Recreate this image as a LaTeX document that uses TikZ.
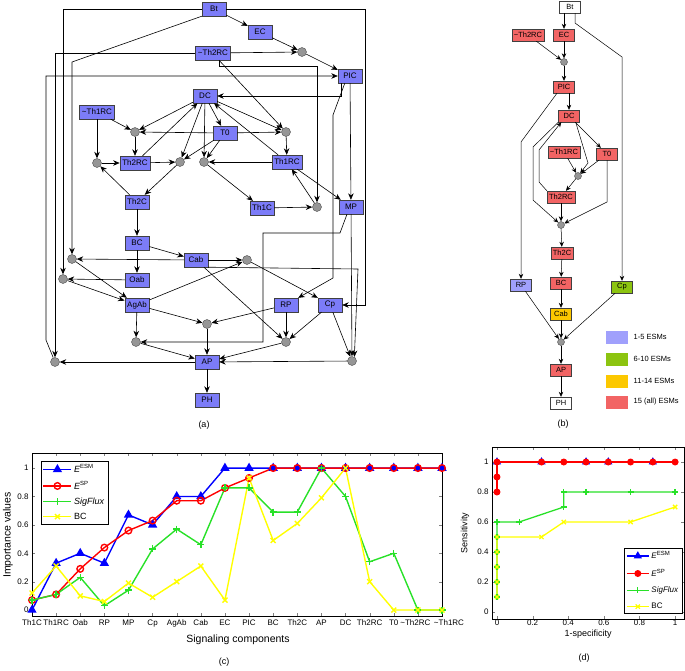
\documentclass[tikz,border=0pt]{standalone}
\usepackage{fontspec}
\setmainfont{Liberation Sans}
\usepackage{pgfplots}
\pgfplotsset{compat=1.18}
\usetikzlibrary{arrows.meta,positioning}
\definecolor{esmblue}{RGB}{124,124,248}
\definecolor{lowblue}{RGB}{160,160,252}
\definecolor{midgreen}{RGB}{140,196,16}
\definecolor{highgold}{RGB}{252,200,0}
\definecolor{allred}{RGB}{242,100,100}
\definecolor{andgray}{RGB}{150,150,150}
\definecolor{mlgreen}{RGB}{40,225,40}
\definecolor{mlyellow}{RGB}{255,255,0}
\tikzset{
  comp/.style={rectangle,draw=black!75,fill=esmblue,minimum width=24pt,
               minimum height=14pt,inner xsep=2.5pt,inner ysep=0pt,
               font=\fontsize{8}{9}\selectfont},
  scomp/.style={comp,fill=#1,minimum width=21pt,minimum height=12pt,
                inner xsep=2pt,font=\fontsize{7.5}{8}\selectfont},
  scomp/.default=allred,
  andg/.style={circle,draw=black!70,fill=andgray,minimum size=9pt,inner sep=0pt},
  sandg/.style={andg,minimum size=7pt},
  arr/.style={-{Stealth[length=6.5pt,width=5.5pt]},line width=0.6pt},
  sarr/.style={-{Stealth[length=5pt,width=4.5pt]},line width=0.5pt},
  swatch/.style={rectangle,minimum width=22pt,minimum height=13pt,
                 inner sep=0pt,fill=#1},
  swatch/.default=allred,
  lab/.style={font=\fontsize{7.5}{9}\selectfont},
  captext/.style={font=\fontsize{9}{10}\selectfont},
}
\pgfplotsset{
  mlaxis/.style={scale only axis,anchor=south west,clip=false,
    axis line style={line width=0.5pt},
    tick label style={font=\fontsize{8}{9}\selectfont},
    yticklabel={\pgfmathprintnumber[assume math mode=true]{\tick}},
    major tick length=3pt,ytick={0,0.2,0.4,0.6,0.8,1},
    legend cell align=left},
}

\begin{document}
\begin{tikzpicture}
\useasboundingbox (0pt,0pt) rectangle (685pt,-670pt);
\begin{scope}[x=1pt,y=-1pt]
  % (a) full network
  \node[comp] (aBt) at (214,9) {Bt};
  \node[comp] (aEC) at (260,32) {EC};
  \node[comp] (anTh2RC) at (213,53) {\textasciitilde Th2RC};
  \node[comp] (aPIC) at (350,76) {PIC};
  \node[comp] (aDC) at (205,96) {DC};
  \node[comp] (anTh1RC) at (97,112) {\textasciitilde Th1RC};
  \node[comp] (aT0) at (225,133) {T0};
  \node[comp] (aTh2RC) at (135,163) {Th2RC};
  \node[comp] (aTh1RC) at (287,162) {Th1RC};
  \node[comp] (aTh2C) at (137,202) {Th2C};
  \node[comp] (aTh1C) at (262,208) {Th1C};
  \node[comp] (aMP) at (351,207) {MP};
  \node[comp] (aBC) at (137,243) {BC};
  \node[comp] (aCab) at (196,260) {Cab};
  \node[comp] (aOab) at (137,280) {Oab};
  \node[comp] (aAgAb) at (137,305) {AgAb};
  \node[comp] (aRP) at (286,305) {RP};
  \node[comp] (aCp) at (330,305) {Cp};
  \node[comp] (aAP) at (207,362) {AP};
  \node[comp] (aPH) at (207,400) {PH};

  \node[andg] (gPIC) at (302,52) {};
  \node[andg] (gFb) at (55,362) {};
  \node[andg] (gTwoA) at (135,132) {};
  \node[andg] (gTwoB) at (97,163) {};
  \node[andg] (gOneA) at (286,132) {};
  \node[andg] (gTwoC) at (180,162) {};
  \node[andg] (gOneC) at (204,162) {};
  \node[andg] (gOneB) at (317,207) {};
  \node[andg] (gAgA) at (72,259) {};
  \node[andg] (gAgB) at (63,279) {};
  \node[andg] (gCp) at (247,260) {};
  \node[andg] (gApA) at (207,324) {};
  \node[andg] (gApB) at (136,342) {};
  \node[andg] (gApC) at (286,342) {};
  \node[andg] (gApD) at (352,361) {};

  \draw[arr] (aBt) -- (aEC);
  \draw[arr] (aEC) -- (gPIC);
  \draw[arr] (anTh2RC) -- (gPIC);
  \draw[arr] (gPIC) -- (aPIC);
  \draw[arr] (aBt.west) -| (gAgB);
  \draw[arr] (aBt.south west) -- (72,62) -- (gAgA);
  \draw[arr] (aBt.east) -- (365,9) |- (aCp);
  \draw[arr] (anTh2RC.west) -| (gFb);
  \draw[arr] ([xshift=6pt]anTh2RC.south) -- (gOneA);
  \draw[arr] ([xshift=6pt]anTh2RC.south) |- (317,66) -- (gOneB);
  \draw[arr] (gFb) -- (46,340) -- (46,76) -- (aPIC);
  \draw[arr] ([xshift=3pt]aPIC.south west) |- (aDC);
  \draw[arr] (aPIC) -- (aMP);
  \draw[arr] ([xshift=7pt]aPIC.south west) -- (333,115) -- (333,278) -- (aRP.north east);

  \draw[arr] (aDC) -- (gTwoA);
  \draw[arr] (aDC) -- (gOneA);
  \draw[arr] (aDC) -- (aT0);
  \draw[arr] (aDC) -- (gTwoC);
  \draw[arr] (aDC) -- (gOneC);
  \draw[arr] (aTh2RC) -- (aDC);
  \draw[arr] (aTh1RC) -- (aDC);
  \draw[arr] (aT0) -- (gTwoA);
  \draw[arr] (aT0) -- (gOneA);
  \draw[arr] (aT0) -- (gTwoC);
  \draw[arr] (aT0) -- (gOneC);
  \draw[arr] (anTh1RC) -- (gTwoA);
  \draw[arr] (anTh1RC) -- (gTwoB);
  \draw[arr] (gTwoA) -- (aTh2RC);
  \draw[arr] (gTwoB) -- (aTh2RC);
  \draw[arr] (aTh2RC) -- (gTwoC);
  \draw[arr] (gTwoC) -- (aTh2C);
  \draw[arr] (aTh2C) -- (gTwoB);
  \draw[arr] (gOneA) -- (aTh1RC);
  \draw[arr] (aTh1RC) -- (gOneC);
  \draw[arr] (gOneC) -- (aTh1C);
  \draw[arr] (aTh1C) -- (gOneB);
  \draw[arr] (gOneB) -- (aTh1RC);
  \draw[arr] (aTh1RC) -- (aMP);

  \draw[arr] (aTh2C) -- (aBC);
  \draw[arr] (aBC) -- (aOab);
  \draw[arr] (aBC) -- (aCab);
  \draw[arr] (aCab) -- (gAgA);
  \draw[arr] (aCab) -- (gCp);
  \draw[arr] (aOab) -- (gAgB);
  \draw[arr] (gAgA) -- (aAgAb);
  \draw[arr] (gAgB) -- (aAgAb);
  \draw[arr] (aAgAb) -- (gCp);
  \draw[arr] (gCp) -- (aCp.north west);
  \draw[arr] (aCab) -- (gApC);
  \draw[arr] (aCab.south east) -- (358,269) -- (gApD.60);
  \draw[arr] (aAgAb) -- (gApA);
  \draw[arr] (aAgAb) -- (gApB);
  \draw[arr] (aRP) -- (gApA);
  \draw[arr] (aRP) -- (gApC);
  \draw[arr] (aCp) -- (gApC);
  \draw[arr] (aCp) -- (gApD);
  \draw[arr] (aMP) -- (gApD);
  \draw[arr] ([xshift=-4pt]aMP.south) -- (340,233) -- (263,233) |- (gApB);
  \draw[arr] (gApA) -- (aAP);
  \draw[arr] (gApB) -- (aAP);
  \draw[arr] (gApC) -- (aAP);
  \draw[arr] (gApD) -- (aAP);
  \draw[arr] (aAP) -- (gFb);
  \draw[arr] (aAP) -- (aPH);

  % (b) core network
  \node[scomp=white] (bBt) at (570,7) {Bt};
  \node[scomp] (bEC) at (564,35) {EC};
  \node[scomp] (bnTh2RC) at (528,35) {\textasciitilde Th2RC};
  \node[sandg] (hPIC) at (564,62) {};
  \node[scomp] (bPIC) at (564,87) {PIC};
  \node[scomp] (bDC) at (569,116) {DC};
  \node[scomp] (bnTh1RC) at (564,152) {\textasciitilde Th1RC};
  \node[scomp] (bT0) at (607,154) {T0};
  \node[sandg] (hTwoRC) at (578,176) {};
  \node[scomp] (bTh2RC) at (561,197) {Th2RC};
  \node[sandg] (hTwoC) at (561,225) {};
  \node[scomp] (bTh2C) at (562,253) {Th2C};
  \node[scomp] (bBC) at (561,283) {BC};
  \node[scomp=highgold] (bCab) at (561,314) {Cab};
  \node[scomp=lowblue] (bRP) at (521,285) {RP};
  \node[scomp=midgreen] (bCp) at (622,287) {Cp};
  \node[sandg] (hAP) at (561,342) {};
  \node[scomp] (bAP) at (561,370) {AP};
  \node[scomp=white] (bPH) at (561,403) {PH};

  \draw[sarr] (bBt.south -| bEC) -- (bEC);
  \draw[sarr] ([xshift=5pt]bBt.south) -- (575,23) -- (622,57) -- (bCp);
  \draw[sarr] (bnTh2RC) -- (hPIC);
  \draw[sarr] (bEC) -- (hPIC);
  \draw[sarr] (hPIC) -- (bPIC);
  \draw[sarr] (bPIC.south -| bDC) -- (bDC);
  \draw[sarr] ([xshift=-7pt]bPIC.south) -- (521,142) -- (bRP);
  \draw[sarr] (bDC) -- (bT0);
  \draw[sarr] ([xshift=-4pt]bDC.south east) -- (588,163) -- (hTwoRC);
  \draw[sarr] (bnTh1RC) -- (hTwoRC);
  \draw[sarr] (bT0) -- (hTwoRC);
  \draw[sarr] (hTwoRC) -- (bTh2RC);
  \draw[sarr] (bDC.south west) -- (533,147) -- (533,200) -- (hTwoC);
  \draw[sarr] (bTh2RC.north west) -- (539,182) -- (539,150) -- ([xshift=3pt]bDC.south west);
  \draw[sarr] (bT0) -- (607,202) -- (hTwoC);
  \draw[sarr] (bTh2RC) -- (hTwoC);
  \draw[sarr] (hTwoC) -- (bTh2C);
  \draw[sarr] (bTh2C) -- (bBC);
  \draw[sarr] (bBC) -- (bCab);
  \draw[sarr] (bCab) -- (hAP);
  \draw[sarr] (bRP) -- (hAP);
  \draw[sarr] (bCp) -- (hAP);
  \draw[sarr] (hAP) -- (bAP);
  \draw[sarr] (bAP) -- (bPH);

  \node[swatch=lowblue] (kOne) at (617,337) {};
  \node[swatch=midgreen] (kTwo) at (617,359) {};
  \node[swatch=highgold] (kThree) at (617,381) {};
  \node[swatch=allred] (kFour) at (617,402) {};
  \node[lab,right=2pt of kOne] (tOne) {1-5 ESMs};
  \node[lab,right=2pt of kTwo] (tTwo) {6-10 ESMs};
  \node[lab,right=2pt of kThree] (tThree) {11-14 ESMs};
  \node[lab,right=2pt of kFour] (tFour) {15 (all) ESMs};

  % captions and axis labels
  \node[captext] (capA) at (204,425) {(a)};
  \node[captext] (capB) at (563,424) {(b)};
  \node[captext] (capC) at (224,662) {(c)};
  \node[captext] (capD) at (584,658) {(d)};
  \node[font=\fontsize{10.5}{12}\selectfont,rotate=90] (ylabC) at (8,535) {Importance values};
  \node[font=\fontsize{10.5}{12}\selectfont] (xlabC) at (238,640) {Signaling components};
  \node[font=\fontsize{9}{10}\selectfont,rotate=90] (ylabD) at (465,533) {Sensitivity};
  \node[font=\fontsize{9}{10}\selectfont] (xlabD) at (588,634) {1-specificity};
\end{scope}

% (c) importance values
\begin{axis}[mlaxis,at={(32pt,-616pt)},width=410pt,height=163pt,
  xmin=1,xmax=18,ymin=-0.042,ymax=1.106,xtick={1,...,18},
  xticklabels={Th1C,Th1RC,Oab,RP,MP,Cp,AgAb,Cab,EC,PIC,BC,Th2C,AP,DC,Th2RC,T0,
               \textasciitilde Th2RC\hspace*{5pt},\hspace*{14pt}\textasciitilde Th1RC},
  legend style={at={(0.022,0.951)},anchor=north west,draw=black,
                font=\fontsize{9}{10}\selectfont,inner sep=1.5pt,row sep=3pt},
  legend image code/.code={\draw[mark repeat=2,mark phase=2,#1]
      plot coordinates {(0pt,0pt) (14pt,0pt) (28pt,0pt)};}]
\addplot[blue,line width=1.4pt,mark=triangle*,mark size=4pt] coordinates {
  (1,0) (2,0.33) (3,0.40) (4,0.33) (5,0.67) (6,0.60) (7,0.80) (8,0.80) (9,1)
  (10,1) (11,1) (12,1) (13,1) (14,1) (15,1) (16,1) (17,1) (18,1)};
\addlegendentry{\textit{E}\textsuperscript{ESM}}
\addplot[red,line width=1.4pt,mark=o,mark size=3.3pt] coordinates {
  (1,0.07) (2,0.11) (3,0.29) (4,0.44) (5,0.56) (6,0.63) (7,0.77) (8,0.77) (9,0.86)
  (10,0.93) (11,1) (12,1) (13,1) (14,1) (15,1) (16,1) (17,1) (18,1)};
\addlegendentry{\textit{E}\textsuperscript{SP}}
\addplot[mlgreen,line width=1.4pt,mark=+,mark size=3.5pt] coordinates {
  (1,0.07) (2,0.11) (3,0.23) (4,0.03) (5,0.14) (6,0.43) (7,0.57) (8,0.46) (9,0.86)
  (10,0.86) (11,0.69) (12,0.69) (13,1) (14,0.80) (15,0.34) (16,0.40) (17,0) (18,0)};
\addlegendentry{\textit{SigFlux}}
\addplot[mlyellow,line width=1.4pt,mark=x,mark size=3.5pt] coordinates {
  (1,0.12) (2,0.31) (3,0.10) (4,0.06) (5,0.19) (6,0.09) (7,0.20) (8,0.31) (9,0.07)
  (10,0.93) (11,0.49) (12,0.61) (13,0.79) (14,1) (15,0.20) (16,0) (17,0) (18,0)};
\addlegendentry{BC}
\end{axis}

% (d) ROC
\begin{axis}[mlaxis,at={(492pt,-619pt)},width=192pt,height=172pt,
  xmin=-0.028,xmax=1.05,ymin=-0.047,ymax=1.1,
  xtick={0,0.2,0.4,0.6,0.8,1},
  xticklabel={\pgfmathprintnumber[assume math mode=true]{\tick}},
  xticklabel style={yshift=2.5pt},
  legend style={at={(0.99,0.03)},anchor=south east,draw=black,
                font=\fontsize{8}{9}\selectfont,inner sep=1.5pt,row sep=5pt},
  legend image code/.code={\draw[mark repeat=2,mark phase=2,#1]
      plot coordinates {(0pt,0pt) (11pt,0pt) (22pt,0pt)};}]
\addplot[blue,line width=1.3pt,mark=triangle*,mark size=3.5pt] coordinates {
  (0,1) (0.25,1) (0.5,1) (0.625,1) (0.875,1)};
\addlegendentry{\textit{E}\textsuperscript{ESM}}
\addplot[red,line width=1.3pt,mark=*,mark size=2.8pt] coordinates {
  (0,0.8) (0,0.9) (0,1) (0.25,1) (0.375,1) (0.5,1) (0.625,1) (0.75,1) (0.875,1) (1,1)};
\addlegendentry{\textit{E}\textsuperscript{SP}}
\addplot[mlgreen,line width=1.3pt,mark=+,mark size=3pt] coordinates {
  (0,0.1) (0,0.2) (0,0.3) (0,0.4) (0,0.5) (0,0.6) (0.125,0.6) (0.375,0.7)
  (0.375,0.8) (0.5,0.8) (0.75,0.8) (1,0.8)};
\addlegendentry{\textit{SigFlux}}
\addplot[mlyellow,line width=1.3pt,mark=x,mark size=3pt] coordinates {
  (0,0.1) (0,0.2) (0,0.3) (0,0.4) (0,0.5) (0.25,0.5) (0.375,0.6) (0.75,0.6) (1,0.7)};
\addlegendentry{BC}
\end{axis}
\end{tikzpicture}
\end{document}
